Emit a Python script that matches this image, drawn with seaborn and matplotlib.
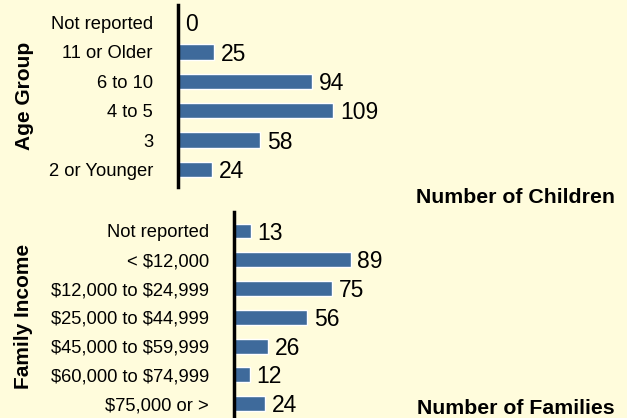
import pandas as pd
import seaborn as sns
import matplotlib.pyplot as plt

# data
age_groups = ['Not reported', '11 or Older', '6 to 10', '4 to 5', '3', '2 or Younger']
age_counts = [0, 25, 94, 109, 58, 24]

income_groups = ['Not reported', '< $12,000', '$12,000 to $24,999', '$25,000 to $44,999',
                 '$45,000 to $59,999', '$60,000 to $74,999', '$75,000 or >']
income_counts = [13, 89, 75, 56, 26, 12, 24]

bg = '#FFFCDC'
bar_color = '#3E6A9B'

sns.set_theme(style='white')
plt.rcParams['font.family'] = ['Liberation Sans', 'DejaVu Sans']
plt.rcParams['text.parse_math'] = False  # keep the dollar signs literal

fig = plt.figure(figsize=(6.27, 4.18), dpi=100)
fig.patch.set_facecolor(bg)

W, H = 627, 418
ax_top = fig.add_axes([178 / W, (H - 187) / H, 223 / W, 182 / H])
ax_bot = fig.add_axes([234 / W, 0, 206 / W, 206 / H])

age_df = pd.DataFrame({'group': age_groups, 'count': age_counts})
inc_df = pd.DataFrame({'group': income_groups, 'count': income_counts})


def draw(ax, df, ylabel, ylim, xmax, label_pos):
    sns.barplot(data=df, x='count', y='group', ax=ax, color=bar_color,
                width=0.52, saturation=1, orient='h')
    ax.set_facecolor(bg)
    ax.set_xlim(0, xmax)
    ax.set_ylim(*ylim)
    for s in ['top', 'right', 'bottom']:
        ax.spines[s].set_visible(False)
    ax.spines['left'].set_color('black')
    ax.spines['left'].set_linewidth(2.5)
    ax.set_xticks([])
    ax.set_xlabel('')
    ax.set_ylabel('')
    ax.tick_params(axis='y', length=0, pad=18, labelsize=13.2, labelcolor='black')
    for i, v in enumerate(df['count']):
        ax.text(v + 5, i + 0.07, str(v), va='center', ha='left', fontsize=16.5, color='black')
    fig.text(label_pos[0] / W, 1 - label_pos[1] / H, ylabel, rotation=90, ha='center', va='center',
             fontsize=15, fontweight='bold', color='black')


draw(ax_top, age_df, 'Age Group', (5.6, -0.6), 157, (24, 96))
draw(ax_bot, inc_df, 'Family Income', (6.5, -0.66), 157, (24, 316))

fig.text(615 / W, 1 - 198 / H, 'Number of Children', ha='right', va='center',
         fontsize=15.3, fontweight='bold', color='black')
fig.text(615 / W, 1 - 408 / H, 'Number of Families', ha='right', va='center',
         fontsize=15.3, fontweight='bold', color='black')

fig.savefig('out.png', dpi=100, facecolor=bg)
